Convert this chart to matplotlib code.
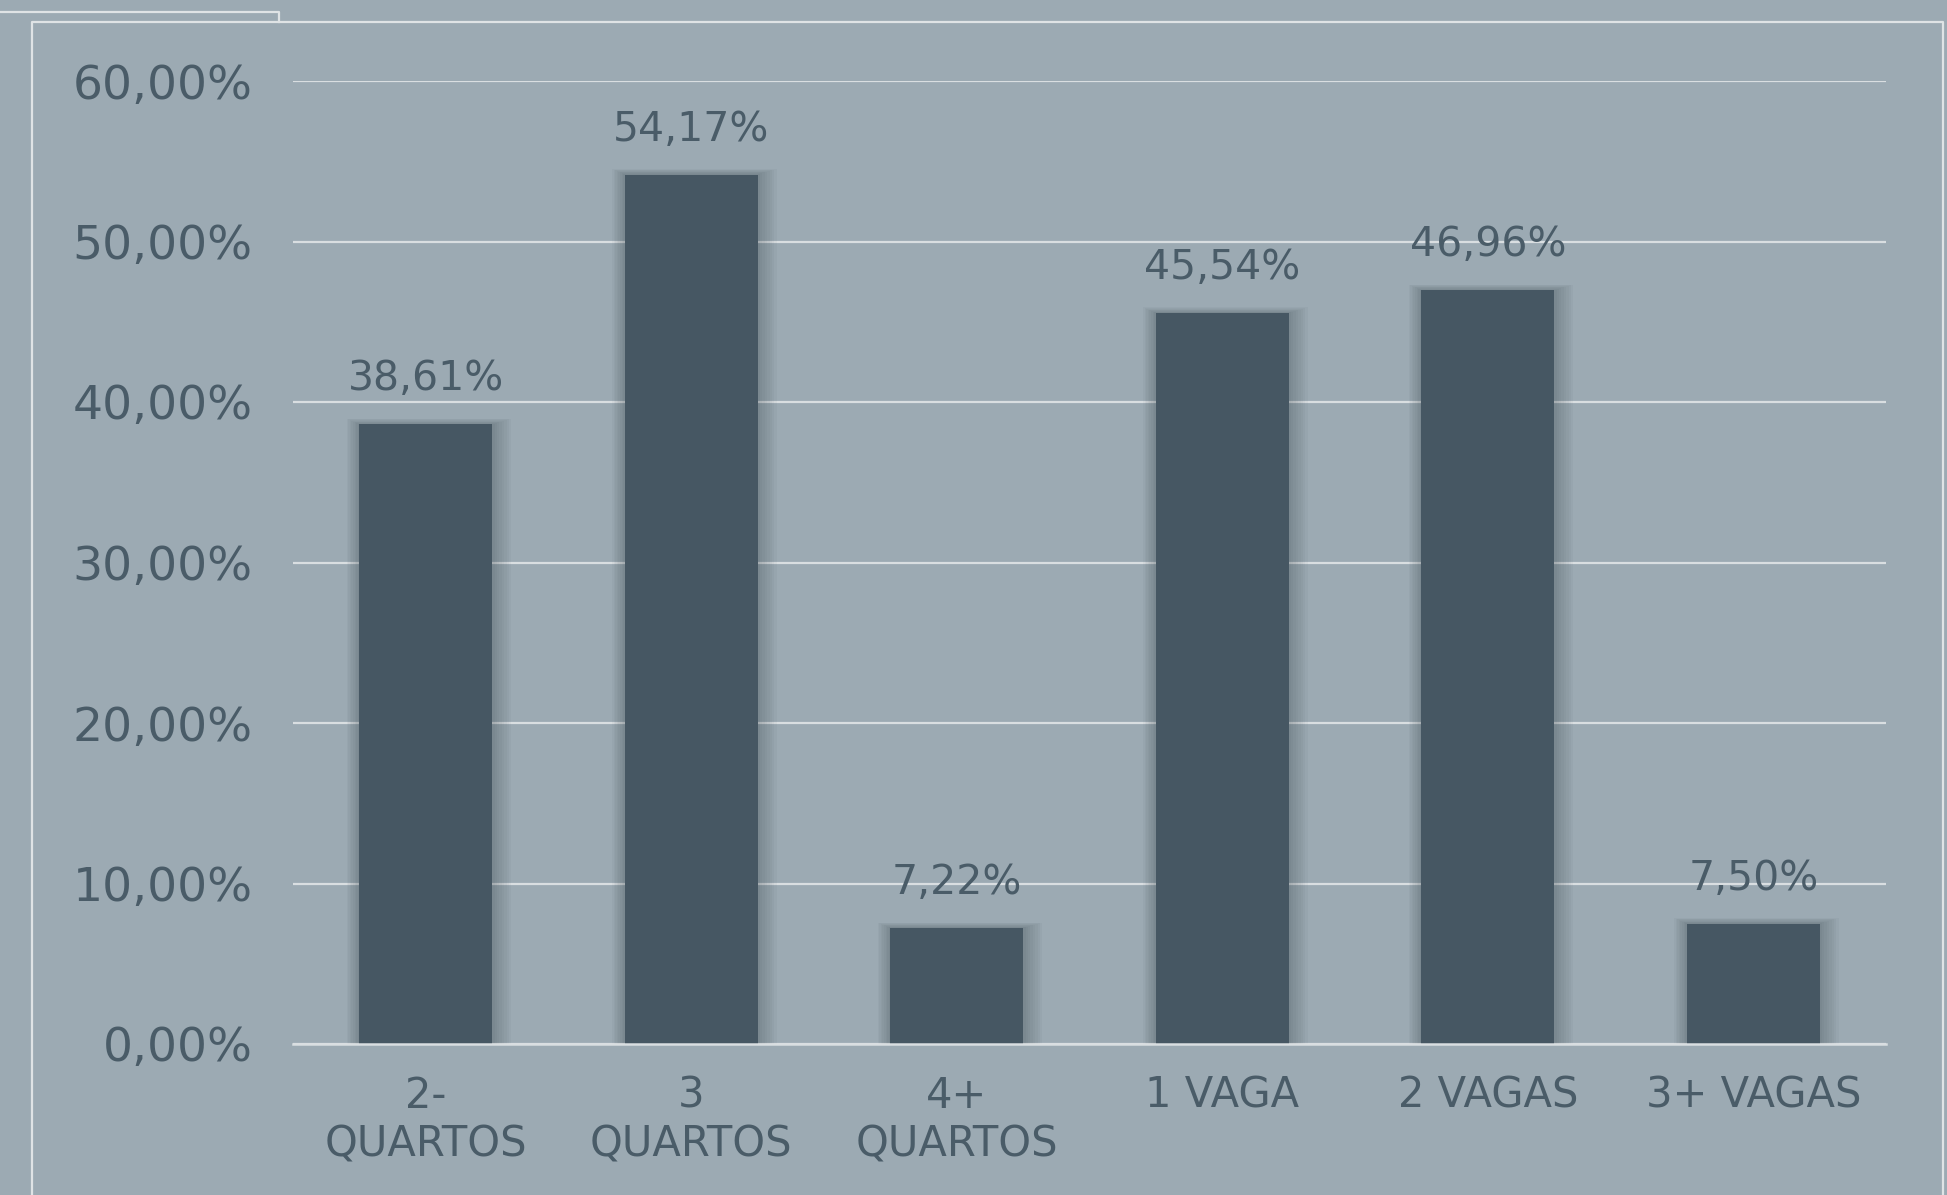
import matplotlib
matplotlib.use("Agg")
import matplotlib.pyplot as plt
from matplotlib.lines import Line2D

categories = ["2-\nQUARTOS", "3\nQUARTOS", "4+\nQUARTOS", "1 VAGA", "2 VAGAS", "3+ VAGAS"]
values = [38.61, 54.17, 7.22, 45.54, 46.96, 7.50]
yticks = [0, 10, 20, 30, 40, 50, 60]

BG = "#9caab3"
BAR = "#465763"
TXT = "#4a5c68"
GRID = "#d9dee1"
FRAME = "#dfe3e5"

plt.rcParams["font.family"] = ["DejaVu Sans"]

W, H = 1947, 1195
fig = plt.figure(figsize=(W / 100, H / 100), dpi=100, facecolor=BG)
ax = fig.add_axes([293 / W, 1 - 1044 / H, (1886 - 293) / W, (1044 - 81) / H])
ax.set_facecolor(BG)

x = list(range(len(categories)))
ax.set_xlim(-0.5, len(categories) - 0.5)
ax.set_ylim(0, 60)

# soft shadow behind bars
px_x = 1 / 265.5
px_y = 60 / 963
for k in range(8, 0, -1):
    d = k * 2.0
    ax.bar([xi + d * px_x * 0.2 for xi in x], [v + d * px_y * 0.35 for v in values],
           width=0.5 + 2 * d * px_x, color="#2e3a42", alpha=0.04, linewidth=0,
           zorder=2)
bars = ax.bar(x, values, width=0.5, color=BAR, linewidth=0, zorder=3)

for xi, v in zip(x, values):
    ax.annotate(f"{v:.2f}%".replace(".", ","), (xi, v), xytext=(0, 18),
                textcoords="offset points", ha="center", va="bottom",
                fontsize=29.5, color=TXT, zorder=4)

ax.set_yticks(yticks)
ax.set_yticklabels([f"{t:.2f}%".replace(".", ",") for t in yticks])
ax.set_xticks(x)
ax.set_xticklabels(categories, linespacing=1.2)
ax.tick_params(axis="y", length=0, pad=29, labelsize=34, labelcolor=TXT)
ax.tick_params(axis="x", length=0, pad=22, labelsize=30, labelcolor=TXT)

ax.grid(axis="y", color=GRID, linewidth=1.6, zorder=1)
ax.set_axisbelow(True)
for s in ["left", "right", "top"]:
    ax.spines[s].set_visible(False)
ax.spines["bottom"].set_color(GRID)
ax.spines["bottom"].set_linewidth(1.8)
ax.spines["bottom"].set_zorder(5)

def fl(xs, ys):
    fig.add_artist(Line2D([xx / W for xx in xs], [1 - yy / H for yy in ys],
                          transform=fig.transFigure, color=FRAME, linewidth=1.6))

fl([0, 279, 279], [12, 12, 22])
fl([32, 32, 1943, 1943], [H + 5, 22, 22, H + 5])

fig.savefig("out.png", dpi=100, facecolor=BG)
